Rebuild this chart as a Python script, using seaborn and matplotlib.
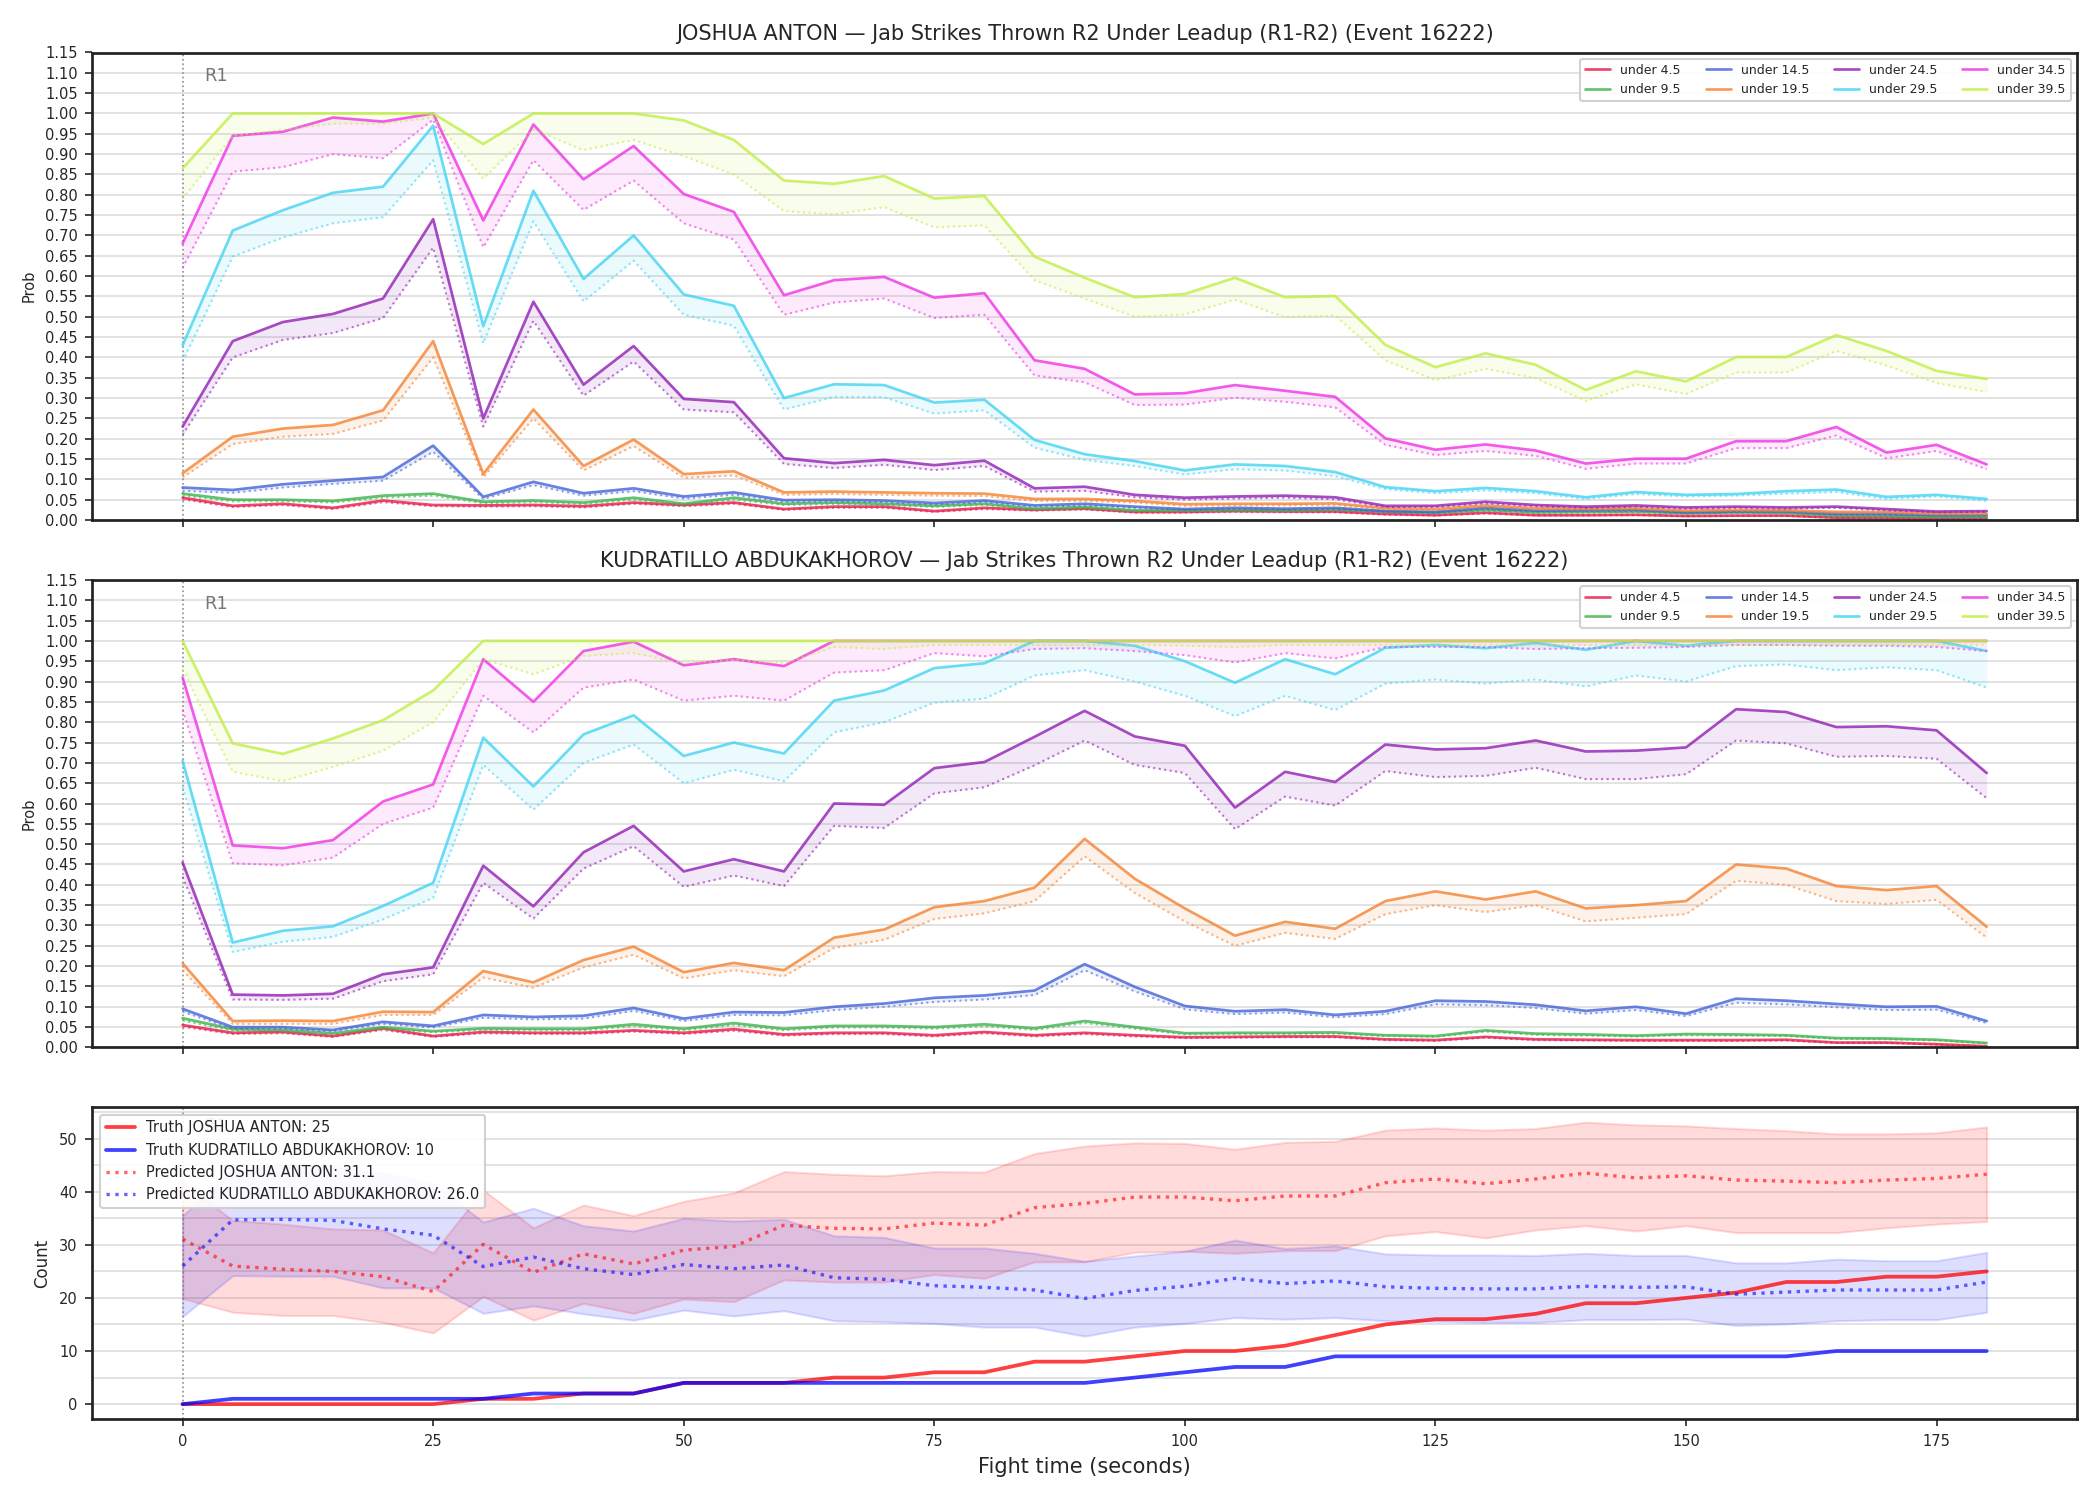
import matplotlib
matplotlib.use("Agg")
import matplotlib.pyplot as plt
import matplotlib.transforms as mtransforms
from matplotlib.ticker import MultipleLocator, FormatStrFormatter
import seaborn as sns

# tempo di combattimento (secondi)
secs = list(range(0, 181, 5))

labels = ["under 4.5", "under 9.5", "under 14.5", "under 19.5",
          "under 24.5", "under 29.5", "under 34.5", "under 39.5"]
colors = ['#e6194b', '#3cb44b', '#4363d8', '#f58231',
          '#911eb4', '#42d4f4', '#f032e6', '#bfef45']

# --- JOSHUA ANTON: linea piena (sopra) e punteggiata (sotto) per soglia ---
ja_u45 = [0.055,0.035,0.04,0.03,0.048,0.037,0.036,0.037,0.034,0.043,0.037,0.043,0.027,0.033,0.033,0.022,0.03,0.025,0.028,0.02,0.02,0.022,0.021,0.021,0.015,0.012,0.018,0.012,0.012,0.013,0.01,0.011,0.011,0.006,0.006,0.005,0.004]
ja_l45 = [0.051,0.032,0.037,0.027,0.044,0.034,0.033,0.034,0.031,0.04,0.034,0.04,0.025,0.03,0.03,0.02,0.027,0.023,0.026,0.018,0.018,0.02,0.019,0.019,0.013,0.011,0.016,0.011,0.011,0.012,0.009,0.01,0.01,0.005,0.005,0.004,0.003]
ja_u95 = [0.065,0.05,0.05,0.047,0.06,0.065,0.045,0.048,0.043,0.055,0.04,0.055,0.04,0.043,0.04,0.035,0.04,0.028,0.032,0.024,0.024,0.025,0.024,0.026,0.021,0.018,0.025,0.019,0.02,0.021,0.017,0.019,0.018,0.011,0.01,0.008,0.008]
ja_l95 = [0.06,0.046,0.046,0.043,0.055,0.06,0.041,0.044,0.039,0.05,0.037,0.05,0.037,0.039,0.037,0.032,0.037,0.026,0.029,0.022,0.022,0.023,0.022,0.024,0.019,0.016,0.023,0.017,0.018,0.019,0.015,0.017,0.016,0.01,0.009,0.007,0.007]
ja_u145 = [0.08,0.074,0.088,0.097,0.106,0.183,0.057,0.094,0.066,0.078,0.058,0.068,0.049,0.05,0.048,0.042,0.048,0.036,0.04,0.033,0.027,0.03,0.028,0.03,0.022,0.02,0.03,0.023,0.024,0.025,0.019,0.021,0.021,0.015,0.015,0.012,0.012]
ja_l145 = [0.072,0.067,0.08,0.089,0.097,0.168,0.052,0.086,0.06,0.071,0.053,0.062,0.045,0.046,0.044,0.038,0.044,0.033,0.036,0.03,0.025,0.027,0.026,0.027,0.02,0.018,0.027,0.021,0.022,0.023,0.017,0.019,0.019,0.013,0.013,0.011,0.011]
ja_u195 = [0.115,0.205,0.225,0.234,0.27,0.44,0.113,0.272,0.133,0.198,0.113,0.12,0.068,0.07,0.068,0.066,0.065,0.052,0.052,0.047,0.039,0.04,0.04,0.041,0.029,0.027,0.036,0.029,0.028,0.029,0.023,0.025,0.024,0.02,0.02,0.016,0.016]
ja_l195 = [0.105,0.187,0.205,0.212,0.245,0.40,0.105,0.25,0.122,0.182,0.104,0.11,0.062,0.064,0.062,0.06,0.059,0.047,0.047,0.043,0.035,0.036,0.036,0.037,0.026,0.024,0.032,0.026,0.025,0.026,0.021,0.022,0.021,0.018,0.018,0.014,0.014]
ja_u245 = [0.23,0.44,0.487,0.507,0.545,0.74,0.25,0.537,0.333,0.428,0.298,0.29,0.152,0.14,0.148,0.135,0.146,0.078,0.082,0.062,0.055,0.058,0.06,0.056,0.035,0.035,0.045,0.037,0.033,0.036,0.031,0.033,0.031,0.033,0.027,0.021,0.022]
ja_l245 = [0.21,0.40,0.443,0.46,0.497,0.67,0.23,0.49,0.306,0.39,0.272,0.265,0.138,0.128,0.136,0.123,0.133,0.07,0.072,0.056,0.05,0.053,0.055,0.051,0.032,0.032,0.041,0.034,0.03,0.033,0.028,0.03,0.028,0.03,0.024,0.019,0.02]
ja_u295 = [0.43,0.712,0.762,0.805,0.82,0.97,0.477,0.81,0.593,0.70,0.555,0.527,0.30,0.334,0.332,0.289,0.296,0.197,0.162,0.145,0.122,0.137,0.133,0.118,0.081,0.071,0.079,0.071,0.056,0.069,0.062,0.064,0.071,0.075,0.057,0.062,0.052]
ja_l295 = [0.39,0.648,0.695,0.73,0.745,0.885,0.435,0.735,0.538,0.638,0.505,0.478,0.272,0.303,0.302,0.262,0.27,0.178,0.148,0.133,0.112,0.125,0.122,0.108,0.076,0.066,0.073,0.066,0.052,0.064,0.058,0.060,0.065,0.069,0.052,0.058,0.047]
ja_u345 = [0.68,0.945,0.955,0.99,0.98,1.0,0.737,0.973,0.838,0.92,0.802,0.758,0.553,0.59,0.598,0.547,0.558,0.393,0.372,0.309,0.312,0.332,0.318,0.303,0.201,0.173,0.186,0.171,0.139,0.151,0.151,0.194,0.194,0.229,0.166,0.185,0.137]
ja_l345 = [0.62,0.857,0.868,0.90,0.89,0.985,0.671,0.885,0.763,0.835,0.73,0.69,0.505,0.535,0.545,0.497,0.505,0.356,0.339,0.283,0.284,0.301,0.291,0.277,0.185,0.16,0.17,0.158,0.126,0.139,0.139,0.177,0.177,0.208,0.152,0.170,0.125]
ja_u395 = [0.865,1.0,1.0,1.0,1.0,1.0,0.925,1.0,1.0,1.0,0.983,0.935,0.835,0.827,0.846,0.791,0.797,0.648,0.596,0.548,0.556,0.596,0.548,0.551,0.431,0.376,0.410,0.382,0.320,0.366,0.341,0.401,0.401,0.455,0.416,0.367,0.347]
ja_l395 = [0.79,0.945,0.96,0.975,0.975,0.99,0.84,0.96,0.91,0.935,0.895,0.85,0.76,0.752,0.77,0.72,0.725,0.59,0.545,0.50,0.506,0.542,0.499,0.503,0.393,0.344,0.372,0.349,0.293,0.334,0.310,0.363,0.363,0.416,0.38,0.337,0.315]

# --- KUDRATILLO ABDUKAKHOROV ---
ka_u45 = [0.055,0.036,0.038,0.028,0.047,0.028,0.038,0.036,0.036,0.042,0.036,0.045,0.032,0.036,0.036,0.03,0.038,0.03,0.036,0.03,0.025,0.026,0.027,0.027,0.02,0.018,0.026,0.02,0.019,0.018,0.018,0.018,0.019,0.012,0.012,0.008,0.003]
ka_l45 = [0.051,0.033,0.035,0.026,0.043,0.026,0.035,0.033,0.033,0.039,0.033,0.041,0.029,0.033,0.033,0.027,0.035,0.027,0.033,0.027,0.023,0.024,0.025,0.025,0.018,0.016,0.024,0.018,0.017,0.016,0.016,0.016,0.017,0.011,0.011,0.007,0.002]
ka_u95 = [0.072,0.045,0.043,0.035,0.05,0.04,0.047,0.046,0.046,0.057,0.046,0.06,0.046,0.053,0.053,0.05,0.057,0.047,0.065,0.05,0.035,0.036,0.036,0.037,0.03,0.028,0.042,0.034,0.032,0.029,0.033,0.032,0.03,0.023,0.022,0.019,0.011]
ka_l95 = [0.066,0.041,0.039,0.032,0.046,0.037,0.043,0.042,0.042,0.052,0.042,0.055,0.042,0.049,0.049,0.046,0.052,0.043,0.06,0.046,0.032,0.033,0.033,0.034,0.028,0.026,0.039,0.031,0.029,0.027,0.03,0.029,0.028,0.021,0.02,0.017,0.01]
ka_u145 = [0.095,0.05,0.05,0.043,0.063,0.053,0.08,0.075,0.078,0.097,0.071,0.087,0.086,0.10,0.108,0.122,0.128,0.14,0.205,0.149,0.102,0.089,0.093,0.08,0.089,0.115,0.113,0.105,0.09,0.10,0.083,0.12,0.115,0.107,0.10,0.101,0.065]
ka_l145 = [0.088,0.046,0.046,0.04,0.058,0.049,0.073,0.069,0.071,0.09,0.065,0.08,0.079,0.092,0.10,0.112,0.118,0.129,0.19,0.138,0.094,0.082,0.086,0.074,0.082,0.106,0.104,0.097,0.083,0.092,0.077,0.11,0.106,0.099,0.092,0.093,0.06]
ka_u195 = [0.207,0.065,0.066,0.065,0.088,0.087,0.188,0.16,0.215,0.248,0.185,0.208,0.19,0.27,0.29,0.345,0.36,0.393,0.513,0.415,0.342,0.275,0.309,0.292,0.36,0.384,0.364,0.384,0.342,0.35,0.36,0.45,0.44,0.397,0.387,0.397,0.297]
ka_l195 = [0.19,0.058,0.058,0.058,0.08,0.08,0.172,0.147,0.197,0.228,0.17,0.19,0.175,0.245,0.265,0.316,0.33,0.36,0.47,0.38,0.31,0.25,0.282,0.267,0.328,0.35,0.333,0.35,0.31,0.319,0.328,0.41,0.40,0.36,0.353,0.363,0.27]
ka_u245 = [0.455,0.13,0.128,0.132,0.18,0.197,0.447,0.347,0.48,0.545,0.433,0.463,0.433,0.60,0.597,0.687,0.702,0.764,0.828,0.765,0.742,0.59,0.678,0.653,0.745,0.733,0.736,0.755,0.728,0.73,0.738,0.832,0.825,0.788,0.79,0.78,0.675]
ka_l245 = [0.42,0.118,0.117,0.12,0.163,0.18,0.405,0.317,0.44,0.495,0.395,0.423,0.397,0.545,0.54,0.625,0.64,0.694,0.755,0.695,0.675,0.537,0.617,0.595,0.68,0.665,0.668,0.688,0.66,0.66,0.672,0.755,0.748,0.715,0.717,0.71,0.613]
ka_u295 = [0.705,0.258,0.287,0.298,0.348,0.405,0.762,0.642,0.77,0.817,0.717,0.75,0.723,0.853,0.878,0.933,0.945,1.0,1.0,0.988,0.95,0.897,0.955,0.918,0.983,0.99,0.982,0.995,0.978,1.0,0.988,1.0,1.0,1.0,1.0,1.0,0.975]
ka_l295 = [0.64,0.235,0.26,0.272,0.315,0.368,0.695,0.585,0.70,0.745,0.65,0.683,0.655,0.775,0.80,0.848,0.858,0.915,0.928,0.90,0.865,0.815,0.865,0.83,0.895,0.905,0.895,0.905,0.888,0.915,0.90,0.938,0.942,0.928,0.935,0.928,0.885]
ka_u345 = [0.91,0.497,0.49,0.51,0.605,0.647,0.955,0.85,0.975,0.998,0.94,0.955,0.938,1.0,1.0,1.0,1.0,1.0,1.0,1.0,1.0,1.0,1.0,1.0,1.0,1.0,1.0,1.0,1.0,1.0,1.0,1.0,1.0,1.0,1.0,1.0,1.0]
ka_l345 = [0.83,0.453,0.448,0.467,0.55,0.59,0.865,0.775,0.885,0.905,0.853,0.865,0.853,0.922,0.928,0.97,0.962,0.98,0.982,0.975,0.965,0.947,0.97,0.957,0.985,0.985,0.985,0.98,0.982,0.983,0.985,0.99,0.99,0.988,0.988,0.985,0.975]
ka_u395 = [1.0,0.748,0.722,0.76,0.805,0.878,1.0,1.0,1.0,1.0,1.0,1.0,1.0,1.0,1.0,1.0,1.0,1.0,1.0,1.0,1.0,1.0,1.0,1.0,1.0,1.0,1.0,1.0,1.0,1.0,1.0,1.0,1.0,1.0,1.0,1.0,1.0]
ka_l395 = [0.93,0.678,0.655,0.69,0.73,0.80,0.955,0.918,0.963,0.97,0.945,0.953,0.945,0.985,0.98,0.99,0.99,0.99,0.99,0.99,0.988,0.985,0.99,0.99,0.99,0.99,0.99,0.99,0.99,0.99,0.99,0.99,0.99,0.99,0.99,0.99,0.99]

# --- conteggi (pannello in basso) ---
truth_ja = [0,0,0,0,0,0,1,1,2,2,4,4,4,5,5,6,6,8,8,9,10,10,11,13,15,16,16,17,19,19,20,21,23,23,24,24,25]
truth_ka = [0,1,1,1,1,1,1,2,2,2,4,4,4,4,4,4,4,4,4,5,6,7,7,9,9,9,9,9,9,9,9,9,9,10,10,10,10]
pred_ja = [31.1,26.0,25.4,25.0,24.0,21.2,30.1,24.8,28.3,26.4,29.0,29.7,33.7,33.1,33.0,34.1,33.7,37.0,37.8,39.0,39.0,38.3,39.2,39.2,41.7,42.4,41.5,42.4,43.5,42.6,43.0,42.2,42.0,41.7,42.2,42.5,43.3]
pred_ja_hi = [41.9,34.6,33.9,33.0,32.8,28.5,40.3,33.2,37.5,35.5,38.2,39.8,43.8,43.3,43.0,43.8,43.7,47.2,48.6,49.2,49.1,48.0,49.3,49.5,51.6,52.0,51.6,51.9,53.1,52.6,52.4,51.9,51.5,50.9,50.9,51.1,52.2]
pred_ja_lo = [19.9,17.3,16.7,16.7,15.4,13.4,20.3,15.8,19.0,17.1,19.8,19.3,23.4,23.0,23.0,24.4,23.7,26.8,26.8,28.6,28.8,28.4,28.9,28.9,31.7,32.5,31.3,32.8,33.6,32.6,33.6,32.3,32.3,32.3,33.2,33.9,34.4]
pred_ka = [26.0,34.7,34.8,34.6,33.0,31.8,25.9,27.7,25.5,24.4,26.3,25.5,26.2,23.8,23.5,22.3,22.0,21.5,19.9,21.4,22.2,23.7,22.7,23.2,22.1,21.8,21.7,21.7,22.2,22.0,22.1,20.7,21.1,21.5,21.5,21.5,23.0]
pred_ka_hi = [35.5,44.0,45.2,44.8,43.5,41.5,34.3,36.9,33.6,32.6,35.0,34.5,34.8,31.7,31.4,29.4,29.4,28.4,26.9,27.9,28.8,30.9,29.3,29.8,28.3,28.1,28.1,28.0,28.4,28.0,28.0,26.6,26.6,27.3,27.0,27.0,28.6]
pred_ka_lo = [16.5,24.2,24.1,24.1,21.9,21.9,17.1,18.5,17.0,15.8,17.7,16.6,17.6,15.7,15.5,15.2,14.5,14.5,12.8,14.5,15.2,16.3,16.0,16.3,15.7,15.6,15.4,15.4,15.9,15.9,16.0,14.8,15.1,15.7,15.9,15.9,17.3]

ja_upper = [ja_u45, ja_u95, ja_u145, ja_u195, ja_u245, ja_u295, ja_u345, ja_u395]
ja_lower = [ja_l45, ja_l95, ja_l145, ja_l195, ja_l245, ja_l295, ja_l345, ja_l395]
ka_upper = [ka_u45, ka_u95, ka_u145, ka_u195, ka_u245, ka_u295, ka_u345, ka_u395]
ka_lower = [ka_l45, ka_l95, ka_l145, ka_l195, ka_l245, ka_l295, ka_l345, ka_l395]

sns.set_style("ticks")
plt.rcParams['font.family'] = ['DejaVu Sans']
plt.rcParams['axes.edgecolor'] = '#222222'
plt.rcParams['axes.linewidth'] = 1.3

fig, axes = plt.subplots(3, 1, figsize=(14, 10), dpi=150, sharex=True,
                         gridspec_kw={'height_ratios': [1.5, 1.5, 1]})
fig.subplots_adjust(left=0.044, right=0.989, top=0.965, bottom=0.054, hspace=0.144)


def round_marker(ax):
    # linea verticale inizio round + etichetta R1
    ax.axvline(0, color='gray', ls=':', lw=0.8, alpha=0.9, zorder=1)
    trans = mtransforms.blended_transform_factory(ax.transData, ax.transAxes)
    ax.text(2.2, 0.968, 'R1', transform=trans, va='top', ha='left',
            fontsize=8.5, color='#555555', alpha=0.8)


def prob_panel(ax, upper, lower, title):
    for up, lo, lab, col in zip(upper, lower, labels, colors):
        ax.fill_between(secs, lo, up, color=col, alpha=0.1, lw=0)
        sns.lineplot(x=secs, y=lo, ax=ax, color=col, lw=1.0, ls=':', alpha=0.6, legend=False)
        sns.lineplot(x=secs, y=up, ax=ax, color=col, lw=1.3, alpha=0.8, label=lab)
    round_marker(ax)
    ax.set_ylim(0, 1.15)
    ax.yaxis.set_major_locator(MultipleLocator(0.05))
    ax.yaxis.set_major_formatter(FormatStrFormatter('%.2f'))
    ax.yaxis.grid(True, color='#dddddd', lw=0.8)
    ax.set_axisbelow(True)
    ax.tick_params(labelsize=7)
    ax.set_ylabel('Prob', fontsize=7)
    ax.set_title(title, fontsize=10)
    ax.legend(loc='upper right', ncol=4, fontsize=6, framealpha=0.9)


prob_panel(axes[0], ja_upper, ja_lower,
           'JOSHUA ANTON — Jab Strikes Thrown R2 Under Leadup (R1-R2) (Event 16222)')
prob_panel(axes[1], ka_upper, ka_lower,
           'KUDRATILLO ABDUKAKHOROV — Jab Strikes Thrown R2 Under Leadup (R1-R2) (Event 16222)')

# pannello conteggi
ax = axes[2]
ax.fill_between(secs, pred_ja_lo, pred_ja_hi, color='red', alpha=0.14, lw=1)
ax.fill_between(secs, pred_ka_lo, pred_ka_hi, color='blue', alpha=0.13, lw=1)
sns.lineplot(x=secs, y=truth_ja, ax=ax, color='red', lw=1.8, alpha=0.75,
             label='Truth JOSHUA ANTON: 25')
sns.lineplot(x=secs, y=truth_ka, ax=ax, color='blue', lw=1.8, alpha=0.75,
             label='Truth KUDRATILLO ABDUKAKHOROV: 10')
sns.lineplot(x=secs, y=pred_ja, ax=ax, color='red', lw=1.6, ls=':', alpha=0.6,
             label='Predicted JOSHUA ANTON: 31.1')
sns.lineplot(x=secs, y=pred_ka, ax=ax, color='blue', lw=1.6, ls=':', alpha=0.6,
             label='Predicted KUDRATILLO ABDUKAKHOROV: 26.0')
round_marker(ax)
ax.set_ylim(-2.8, 55.9)
ax.yaxis.set_major_locator(MultipleLocator(10))
ax.yaxis.set_minor_locator(MultipleLocator(5))
ax.yaxis.grid(True, which='both', color='#dddddd', lw=0.8)
ax.tick_params(axis='y', which='minor', length=0)
ax.set_axisbelow(True)
ax.tick_params(labelsize=7)
ax.set_ylabel('Count', fontsize=8)
ax.set_xlabel('Fight time (seconds)', fontsize=10)
ax.legend(loc='upper left', fontsize=7, framealpha=0.9)

ax.set_xlim(-9, 189)
ax.xaxis.set_major_locator(MultipleLocator(25))

plt.savefig('out.png', dpi=150)
